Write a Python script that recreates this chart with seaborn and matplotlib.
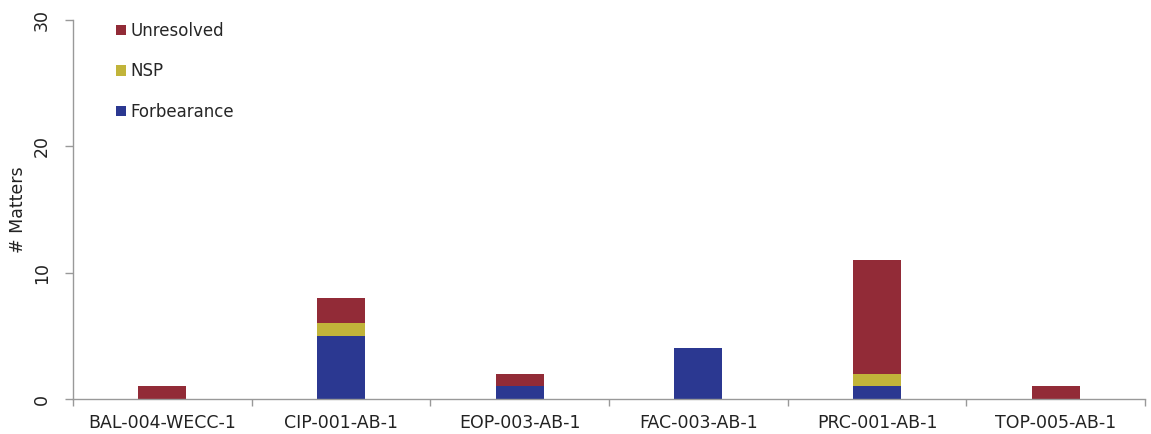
import matplotlib
matplotlib.use("Agg")
import matplotlib.pyplot as plt
from matplotlib.patches import Patch
import seaborn as sns
import pandas as pd
import numpy as np

categories = ["BAL-004-WECC-1", "CIP-001-AB-1", "EOP-003-AB-1", "FAC-003-AB-1", "PRC-001-AB-1", "TOP-005-AB-1"]
forbearance = [0, 5, 1, 4, 1, 0]
nsp = [0, 1, 0, 0, 1, 0]
unresolved = [1, 2, 1, 0, 9, 1]
series_names = ["Forbearance", "NSP", "Unresolved"]
colors = {"Forbearance": "#2B3891", "NSP": "#C1B43A", "Unresolved": "#922B37"}
y_ticks = [0, 10, 20, 30]

sns.set_style("white")
plt.rcParams['font.family'] = ['DejaVu Sans']

df = pd.DataFrame({"cat": categories, "Forbearance": forbearance, "NSP": nsp, "Unresolved": unresolved})
df["c1"] = df["Forbearance"]
df["c2"] = df["c1"] + df["NSP"]
df["c3"] = df["c2"] + df["Unresolved"]

fig = plt.figure(figsize=(11.51, 4.34), dpi=100)
ax = fig.add_axes([0.0634, 0.0806, 0.9314, 0.8733])

for col, name in [("c3", "Unresolved"), ("c2", "NSP"), ("c1", "Forbearance")]:
    sns.barplot(data=df, x="cat", y=col, color=colors[name], width=0.27,
                saturation=1, ax=ax, order=categories, linewidth=0)

ax.set_ylim(0, 30)
ax.set_xlim(-0.5, len(categories) - 0.5)
ax.set_yticks(y_ticks)
ax.set_yticklabels([str(t) for t in y_ticks], rotation=90, va="center", fontsize=12.5, color="#222222")
ax.set_xticks(range(len(categories)))
ax.set_xticklabels(categories, fontsize=12.5, color="#222222")
ax.set_xticks(np.arange(-0.5, len(categories), 1.0), minor=True)
ax.tick_params(axis="x", which="major", length=0, pad=11, bottom=False)
ax.tick_params(axis="x", which="minor", length=5, color="#999999", width=1, direction="out", bottom=True)
ax.tick_params(axis="y", length=6, color="#999999", width=1, direction="out", pad=10, left=True)
ax.set_xlabel("")
ax.set_ylabel("# Matters", fontsize=12.5, color="#222222", labelpad=4)
for s in ["top", "right"]:
    ax.spines[s].set_visible(False)
for s in ["left", "bottom"]:
    ax.spines[s].set_color("#999999")
    ax.spines[s].set_linewidth(1)

handles = [Patch(facecolor=colors[n], edgecolor="none") for n in ["Unresolved", "NSP", "Forbearance"]]
leg = ax.legend(handles, ["Unresolved", "NSP", "Forbearance"], loc="upper left",
                bbox_to_anchor=(0.026, 1.035), frameon=False, fontsize=12,
                handlelength=0.6, handleheight=0.6, handletextpad=0.25, labelspacing=1.35)

fig.savefig("out.png", dpi=100)
